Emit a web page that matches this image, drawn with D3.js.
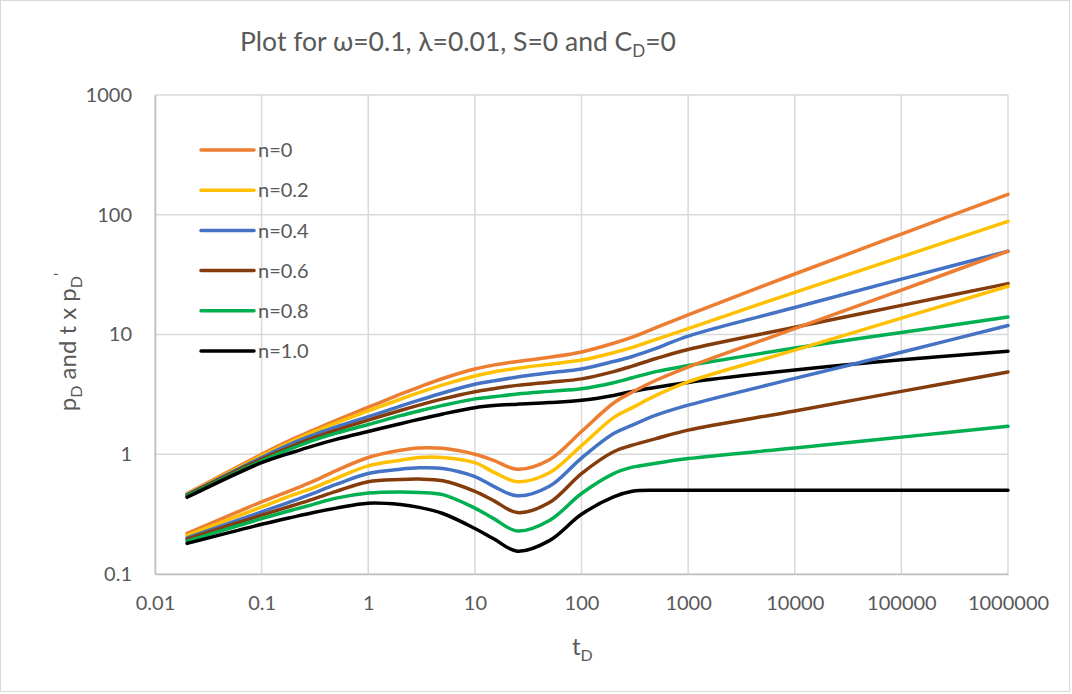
<!DOCTYPE html>
<html lang="en">
<head>
  <meta charset="UTF-8">
  <title>Plot for ω=0.1, λ=0.01, S=0 and CD=0</title>
  <script src="https://d3js.org/d3.v7.min.js"></script>
  <style>
    html, body { margin: 0; padding: 0; background: #fff; }
    body { font-family: 'Lato', 'Open Sans', sans-serif; }
    svg text { fill: #595959; }
  </style>
</head>
<body>
  <div id="chart"></div>

  <script>
    // dimensionless time
    const tD = [0.02, 0.1, 0.2, 0.3, 0.5, 1, 2, 3, 5, 10, 15, 25, 50, 100, 200, 300, 500, 1000, 10000, 100000, 1000000];

    // pD curves
    const pdN0  = [0.47, 1.0, 1.35, 1.58, 1.92, 2.47, 3.17, 3.64, 4.29, 5.15, 5.55, 5.95, 6.45, 7.15, 8.45, 9.5, 11.4, 14.6, 32, 69, 148];
    const pdN02 = [0.465, 0.97, 1.3, 1.52, 1.83, 2.3, 2.88, 3.27, 3.8, 4.5, 4.87, 5.22, 5.65, 6.12, 7.05, 7.8, 9.1, 11.2, 22.5, 44.5, 88];
    const pdN04 = [0.46, 0.94, 1.25, 1.44, 1.69, 2.06, 2.52, 2.83, 3.25, 3.84, 4.1, 4.42, 4.8, 5.15, 5.95, 6.55, 7.65, 9.7, 16.8, 29, 49.6];
    const pdN06 = [0.455, 0.91, 1.18, 1.36, 1.59, 1.93, 2.32, 2.57, 2.9, 3.33, 3.53, 3.76, 4.0, 4.26, 4.9, 5.45, 6.3, 7.5, 11.5, 17.5, 26.6];
    const pdN08 = [0.447, 0.88, 1.135, 1.3, 1.5, 1.77, 2.1, 2.3, 2.56, 2.9, 3.02, 3.18, 3.35, 3.52, 3.95, 4.35, 4.9, 5.5, 7.7, 10.4, 14.0];
    const pdN10 = [0.437, 0.85, 1.045, 1.17, 1.33, 1.55, 1.8, 1.96, 2.17, 2.45, 2.55, 2.62, 2.7, 2.82, 3.1, 3.35, 3.62, 3.98, 5.05, 6.15, 7.25];

    // t x pD' curves
    const dpN0  = [0.218, 0.40, 0.51, 0.59, 0.73, 0.94, 1.08, 1.13, 1.12, 1.0, 0.89, 0.75, 0.9, 1.55, 2.68, 3.31, 4.15, 5.35, 11.2, 23.5, 49.6];
    const dpN02 = [0.21, 0.363, 0.46, 0.52, 0.63, 0.8, 0.89, 0.94, 0.94, 0.85, 0.71, 0.59, 0.7, 1.18, 2.02, 2.45, 3.1, 4.02, 7.4, 13.7, 25.3];
    const dpN04 = [0.2, 0.33, 0.41, 0.47, 0.56, 0.69, 0.75, 0.77, 0.76, 0.65, 0.54, 0.45, 0.54, 0.93, 1.49, 1.75, 2.12, 2.57, 4.3, 7.1, 11.9];
    const dpN06 = [0.195, 0.31, 0.375, 0.42, 0.49, 0.59, 0.615, 0.62, 0.6, 0.49, 0.41, 0.326, 0.395, 0.69, 1.05, 1.19, 1.35, 1.59, 2.3, 3.35, 4.87];
    const dpN08 = [0.188, 0.29, 0.345, 0.38, 0.43, 0.475, 0.485, 0.48, 0.46, 0.355, 0.29, 0.229, 0.28, 0.47, 0.69, 0.78, 0.84, 0.92, 1.13, 1.39, 1.71];
    const dpN10 = [0.18, 0.26, 0.30, 0.325, 0.355, 0.39, 0.38, 0.36, 0.32, 0.24, 0.197, 0.155, 0.19, 0.315, 0.44, 0.49, 0.5, 0.5, 0.5, 0.5, 0.5];

    const names = ["n=0", "n=0.2", "n=0.4", "n=0.6", "n=0.8", "n=1.0"];
    const colors = ["#ED7D31", "#FFC000", "#4472C4", "#843C0C", "#00B050", "#000000"];
    const pdSeries = [pdN0, pdN02, pdN04, pdN06, pdN08, pdN10];
    const dpSeries = [dpN0, dpN02, dpN04, dpN06, dpN08, dpN10];

    const xTicks = [0.01, 0.1, 1, 10, 100, 1000, 10000, 100000, 1000000];
    const yTicks = [0.1, 1, 10, 100, 1000];

    const W = 1072, H = 694;
    const margin = { top: 95, right: 64, bottom: 120, left: 155 };

    const svg = d3.select("#chart")
      .append("svg")
      .attr("width", W)
      .attr("height", H);

    // chart area border
    svg.append("rect")
      .attr("x", 0.5).attr("y", 0.5)
      .attr("width", W - 3).attr("height", H - 3)
      .attr("fill", "#fff")
      .attr("stroke", "#d9d9d9");

    const x = d3.scaleLog()
      .domain([0.01, 1000000])
      .range([margin.left, W - margin.right]);

    const y = d3.scaleLog()
      .domain([0.1, 1000])
      .range([H - margin.bottom, margin.top]);

    // gridlines
    const grid = svg.append("g");
    grid.selectAll("line.vx")
      .data(xTicks)
      .enter().append("line")
      .attr("x1", d => x(d)).attr("x2", d => x(d))
      .attr("y1", y(0.1)).attr("y2", y(1000))
      .attr("stroke", "#d9d9d9").attr("stroke-width", 1.5);
    grid.selectAll("line.hy")
      .data(yTicks)
      .enter().append("line")
      .attr("y1", d => y(d)).attr("y2", d => y(d))
      .attr("x1", x(0.01)).attr("x2", x(1000000))
      .attr("stroke", "#d9d9d9").attr("stroke-width", 1.5);

    // axes
    const fmt = d => String(d);
    const xAxis = svg.append("g")
      .attr("transform", `translate(0,${y(0.1)})`)
      .call(d3.axisBottom(x).tickValues(xTicks).tickFormat(fmt).tickSize(0).tickPadding(22));
    xAxis.select(".domain").attr("stroke", "#bfbfbf").attr("stroke-width", 1.5);
    xAxis.selectAll("text").style("font-size", "20px").style("font-family", "Lato, sans-serif").attr("fill", "#595959");

    const yAxis = svg.append("g")
      .attr("transform", `translate(${x(0.01)},0)`)
      .call(d3.axisLeft(y).tickValues(yTicks).tickFormat(fmt).tickSize(0).tickPadding(23));
    yAxis.select(".domain").attr("stroke", "#bfbfbf").attr("stroke-width", 1.5);
    yAxis.selectAll("text").style("font-size", "20px").style("font-family", "Lato, sans-serif").attr("fill", "#595959");

    // curves
    const line = d3.line()
      .x((d, i) => x(tD[i]))
      .y(d => y(d))
      .curve(d3.curveCatmullRom.alpha(0.5));

    const plot = svg.append("g");
    pdSeries.forEach((s, k) => {
      plot.append("path")
        .datum(s)
        .attr("fill", "none")
        .attr("stroke", colors[k])
        .attr("stroke-width", 3.5)
        .attr("stroke-linecap", "round")
        .attr("d", line);
    });
    dpSeries.forEach((s, k) => {
      plot.append("path")
        .datum(s)
        .attr("fill", "none")
        .attr("stroke", colors[k])
        .attr("stroke-width", 3.5)
        .attr("stroke-linecap", "round")
        .attr("d", line);
    });

    // legend
    const legend = svg.append("g").attr("transform", "translate(201,150)");
    names.forEach((name, k) => {
      const row = legend.append("g").attr("transform", `translate(0,${k * 40.2})`);
      row.append("line")
        .attr("x1", 0).attr("x2", 53)
        .attr("stroke", colors[k]).attr("stroke-width", 3.5)
        .attr("stroke-linecap", "round");
      row.append("text")
        .attr("x", 57).attr("dy", "0.36em")
        .style("font-size", "20px")
        .text(name);
    });

    // title
    const title = svg.append("text")
      .attr("x", 240).attr("y", 51)
      .style("font-size", "26.5px");
    title.append("tspan").text("Plot for ω=0.1, λ=0.01, S=0 and C");
    title.append("tspan").attr("dy", 6).style("font-size", "17px").text("D");
    title.append("tspan").attr("dy", -6).text("=0");

    // x axis title
    const xt = svg.append("text")
      .attr("x", 572).attr("y", 655)
      .style("font-size", "24px");
    xt.append("tspan").text("t");
    xt.append("tspan").attr("dy", 6).style("font-size", "16px").text("D");

    // y axis title
    const yt = svg.append("text")
      .attr("transform", "translate(76,342) rotate(-90)")
      .attr("text-anchor", "middle")
      .style("font-size", "24px");
    yt.append("tspan").text("p");
    yt.append("tspan").attr("dy", 6).style("font-size", "16px").text("D");
    yt.append("tspan").attr("dy", -6).text(" and t x p");
    yt.append("tspan").attr("dy", 6).style("font-size", "16px").text("D");
    yt.append("tspan").attr("dy", -17).style("font-size", "16px").text("'");
  </script>
</body>
</html>
